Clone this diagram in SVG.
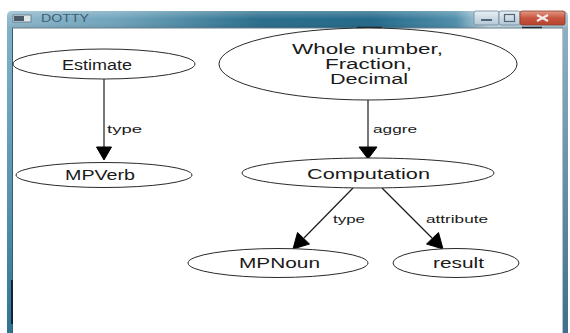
<svg xmlns="http://www.w3.org/2000/svg" width="570" height="333" viewBox="0 0 570 333">
  <style>
    .node ellipse { fill: #ffffff; stroke: #2a2a2a; stroke-width: 1; }
    .node text { font-family: "Liberation Sans", Arial, sans-serif; font-size: 14px; fill: #1a1a1a; text-anchor: middle; }
    .edge line { stroke: #1a1a1a; stroke-width: 1.2; }
    .edge polygon { fill: #000000; stroke: #000000; stroke-width: 1; }
    .elabel { font-family: "Liberation Sans", Arial, sans-serif; font-size: 11px; fill: #1a1a1a; }
  </style>
  <defs>
    <linearGradient id="titleGrad" x1="0" y1="0" x2="1" y2="0">
      <stop offset="0" stop-color="#8fb8cc"/>
      <stop offset="0.2" stop-color="#6ea3bb"/>
      <stop offset="0.45" stop-color="#2a6e8c"/>
      <stop offset="0.65" stop-color="#23698a"/>
      <stop offset="0.8" stop-color="#4f8eab"/>
      <stop offset="0.86" stop-color="#c9dde8"/>
      <stop offset="1" stop-color="#9fc1d3"/>
    </linearGradient>
    <linearGradient id="titleShade" x1="0" y1="0" x2="0" y2="1">
      <stop offset="0" stop-color="#ffffff" stop-opacity="0.25"/>
      <stop offset="0.5" stop-color="#ffffff" stop-opacity="0"/>
      <stop offset="1" stop-color="#000000" stop-opacity="0.08"/>
    </linearGradient>
    <linearGradient id="leftFrame" x1="0" y1="0" x2="0" y2="1">
      <stop offset="0" stop-color="#7fb2c9"/>
      <stop offset="0.5" stop-color="#5a97b3"/>
      <stop offset="1" stop-color="#2f7393"/>
    </linearGradient>
    <linearGradient id="rightFrame" x1="0" y1="0" x2="0" y2="1">
      <stop offset="0" stop-color="#8fb0c4"/>
      <stop offset="1" stop-color="#3f6f8c"/>
    </linearGradient>
    <linearGradient id="btnGrad" x1="0" y1="0" x2="0" y2="1">
      <stop offset="0" stop-color="#e8eff4"/>
      <stop offset="1" stop-color="#b4c8d6"/>
    </linearGradient>
    <linearGradient id="closeGrad" x1="0" y1="0" x2="0" y2="1">
      <stop offset="0" stop-color="#e49a88"/>
      <stop offset="0.5" stop-color="#c8553f"/>
      <stop offset="1" stop-color="#b8432e"/>
    </linearGradient>
  </defs>

  <!-- page background -->
  <rect x="0" y="0" width="570" height="333" fill="#ffffff"/>

  <!-- window frame -->
  <g id="window">
    <path d="M7,16 Q7,11 12,11 L563,11 Q568,11 568,16 L568,28 L7,28 Z" fill="url(#titleGrad)"/>
    <path d="M7,16 Q7,11 12,11 L563,11 Q568,11 568,16 L568,28 L7,28 Z" fill="url(#titleShade)"/>
    <rect x="7" y="28" width="5" height="305" fill="url(#leftFrame)"/>
    <rect x="563" y="28" width="5" height="305" fill="url(#rightFrame)"/>
    <line x1="12.5" y1="28" x2="12.5" y2="333" stroke="#3d5868" stroke-width="1"/>
    <line x1="12" y1="280" x2="12" y2="324" stroke="#12242e" stroke-width="2"/>
    <line x1="562.5" y1="28" x2="562.5" y2="333" stroke="#b8c4cc" stroke-width="1"/>
    <line x1="12" y1="28" x2="563" y2="28" stroke="#6b7f8c" stroke-width="1"/>
    <line x1="357" y1="27.5" x2="382" y2="27.5" stroke="#1e2a30" stroke-width="1.5"/>
    <line x1="522" y1="27.5" x2="542" y2="27.5" stroke="#1e2a30" stroke-width="1.5"/>

    <!-- title icon and caption -->
    <rect x="13" y="15" width="18" height="7" fill="#dfe6ea" stroke="#5d7484" stroke-width="0.8"/>
    <rect x="14" y="16" width="10" height="5" fill="#4a5a66"/>
    <text x="41" y="22" font-family="'Liberation Sans', Arial, sans-serif" font-size="10" fill="#3f5d72" textLength="48" lengthAdjust="spacingAndGlyphs">DOTTY</text>

    <!-- caption buttons -->
    <rect x="474" y="11" width="25" height="14" rx="2" fill="url(#btnGrad)" stroke="#6f8798" stroke-width="0.8"/>
    <rect x="481" y="19" width="11" height="2" fill="#4f6678"/>
    <rect x="499" y="11" width="21" height="14" rx="2" fill="url(#btnGrad)" stroke="#6f8798" stroke-width="0.8"/>
    <rect x="504.5" y="14.5" width="10" height="7" fill="none" stroke="#4f6678" stroke-width="1.2"/>
    <rect x="520" y="11" width="45" height="14" rx="2" fill="url(#closeGrad)" stroke="#8a3a2c" stroke-width="0.8"/>
    <path d="M537,15 L548,21 M548,15 L537,21" stroke="#f4eeee" stroke-width="2"/>
  </g>

  <!-- connectors -->
  <g id="edges">
    <g class="edge" id="e_estimate_mpverb">
      <line x1="104" y1="79" x2="104" y2="147"/>
      <polygon points="96.5,147 111.5,147 104,160"/>
      <text class="elabel" x="107" y="133" textLength="35" lengthAdjust="spacingAndGlyphs">type</text>
    </g>
    <g class="edge" id="e_number_computation">
      <line x1="368" y1="100" x2="368" y2="147"/>
      <polygon points="359,147 377,147 368,159"/>
      <text class="elabel" x="373" y="133" textLength="44" lengthAdjust="spacingAndGlyphs">aggre</text>
    </g>
    <g class="edge" id="e_computation_mpnoun">
      <line x1="353" y1="188" x2="304" y2="238"/>
      <polygon points="297.5,232.5 309.5,244 293,249"/>
      <text class="elabel" x="333" y="223" textLength="32" lengthAdjust="spacingAndGlyphs">type</text>
    </g>
    <g class="edge" id="e_computation_result">
      <line x1="382" y1="188" x2="432" y2="238"/>
      <polygon points="426.5,244 438.5,232.5 443,249"/>
      <text class="elabel" x="426" y="223" textLength="62" lengthAdjust="spacingAndGlyphs">attribute</text>
    </g>
  </g>

  <!-- nodes -->
  <g class="node" id="n_estimate">
    <ellipse cx="104" cy="64" rx="91" ry="15"/>
    <text x="97" y="70" textLength="70" lengthAdjust="spacingAndGlyphs">Estimate</text>
  </g>
  <g class="node" id="n_mpverb">
    <ellipse cx="104" cy="175" rx="88" ry="12.5"/>
    <text x="100" y="180" textLength="70" lengthAdjust="spacingAndGlyphs">MPVerb</text>
  </g>
  <g class="node" id="n_number">
    <ellipse cx="368" cy="64" rx="149" ry="36"/>
    <text x="367.5" y="54" textLength="151" lengthAdjust="spacingAndGlyphs">Whole number,</text>
    <text x="368.5" y="69" textLength="87" lengthAdjust="spacingAndGlyphs">Fraction,</text>
    <text x="369" y="84" textLength="78" lengthAdjust="spacingAndGlyphs">Decimal</text>
  </g>
  <g class="node" id="n_computation">
    <ellipse cx="368" cy="173" rx="126" ry="15"/>
    <text x="368.5" y="179" textLength="123" lengthAdjust="spacingAndGlyphs">Computation</text>
  </g>
  <g class="node" id="n_mpnoun">
    <ellipse cx="278" cy="263" rx="90" ry="14.5"/>
    <text x="279.5" y="268" textLength="81" lengthAdjust="spacingAndGlyphs">MPNoun</text>
  </g>
  <g class="node" id="n_result">
    <ellipse cx="456" cy="263" rx="63" ry="14.5"/>
    <text x="458.5" y="268" textLength="51" lengthAdjust="spacingAndGlyphs">result</text>
  </g>
</svg>
